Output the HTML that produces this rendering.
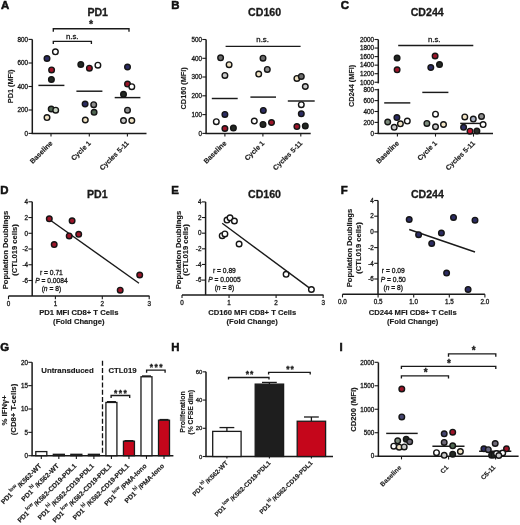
<!DOCTYPE html><html><head><meta charset="utf-8"><style>html,body{margin:0;padding:0;background:#fff;}svg{display:block;will-change:transform;}text{font-family:"Liberation Sans",sans-serif;font-variant-ligatures:none;font-feature-settings:"liga" 0,"clig" 0;}</style></head><body>
<svg width="520" height="525" viewBox="0 0 520 525">
<rect width="520" height="525" fill="#fff"/>
<text x="1" y="9.3" font-size="11.4" font-weight="bold" fill="#111" stroke="#111" stroke-width="0.55">A</text>
<text x="171.3" y="9.3" font-size="11.4" font-weight="bold" fill="#111" stroke="#111" stroke-width="0.55">B</text>
<text x="340.8" y="9.3" font-size="11.4" font-weight="bold" fill="#111" stroke="#111" stroke-width="0.55">C</text>
<text x="0.3" y="193.8" font-size="11.4" font-weight="bold" fill="#111" stroke="#111" stroke-width="0.55">D</text>
<text x="171.3" y="193.8" font-size="11.4" font-weight="bold" fill="#111" stroke="#111" stroke-width="0.55">E</text>
<text x="340.8" y="193.8" font-size="11.4" font-weight="bold" fill="#111" stroke="#111" stroke-width="0.55">F</text>
<text x="0.3" y="350.6" font-size="11.4" font-weight="bold" fill="#111" stroke="#111" stroke-width="0.55">G</text>
<text x="171.3" y="350.6" font-size="11.4" font-weight="bold" fill="#111" stroke="#111" stroke-width="0.55">H</text>
<text x="339.5" y="350.6" font-size="11.4" font-weight="bold" fill="#111" stroke="#111" stroke-width="0.55">I</text>
<text x="97.70" y="15.80" font-size="10.6" font-weight="bold" text-anchor="middle" fill="#1a1a1a" stroke="#1a1a1a" stroke-width="0.3">PD1</text>
<line x1="32.30" y1="39.40" x2="32.30" y2="133.40" stroke="#1a1a1a" stroke-width="1.5"/>
<line x1="31.55" y1="133.40" x2="146.50" y2="133.40" stroke="#1a1a1a" stroke-width="1.5"/>
<line x1="51.00" y1="133.40" x2="51.00" y2="136.60" stroke="#1a1a1a" stroke-width="1.1"/>
<line x1="89.30" y1="133.40" x2="89.30" y2="136.60" stroke="#1a1a1a" stroke-width="1.1"/>
<line x1="127.40" y1="133.40" x2="127.40" y2="136.60" stroke="#1a1a1a" stroke-width="1.1"/>
<line x1="28.50" y1="39.40" x2="32.30" y2="39.40" stroke="#1a1a1a" stroke-width="1.1"/>
<text x="28.10" y="41.67" font-size="6.3" font-weight="normal" text-anchor="end" fill="#1a1a1a" stroke="#1a1a1a" stroke-width="0.3">800</text>
<line x1="28.50" y1="63.00" x2="32.30" y2="63.00" stroke="#1a1a1a" stroke-width="1.1"/>
<text x="28.10" y="65.27" font-size="6.3" font-weight="normal" text-anchor="end" fill="#1a1a1a" stroke="#1a1a1a" stroke-width="0.3">600</text>
<line x1="28.50" y1="86.50" x2="32.30" y2="86.50" stroke="#1a1a1a" stroke-width="1.1"/>
<text x="28.10" y="88.77" font-size="6.3" font-weight="normal" text-anchor="end" fill="#1a1a1a" stroke="#1a1a1a" stroke-width="0.3">400</text>
<line x1="28.50" y1="110.00" x2="32.30" y2="110.00" stroke="#1a1a1a" stroke-width="1.1"/>
<text x="28.10" y="112.27" font-size="6.3" font-weight="normal" text-anchor="end" fill="#1a1a1a" stroke="#1a1a1a" stroke-width="0.3">200</text>
<line x1="28.50" y1="133.40" x2="32.30" y2="133.40" stroke="#1a1a1a" stroke-width="1.1"/>
<text x="28.10" y="135.67" font-size="6.3" font-weight="normal" text-anchor="end" fill="#1a1a1a" stroke="#1a1a1a" stroke-width="0.3">0</text>
<text x="13.30" y="86.40" font-size="7.3" font-weight="bold" text-anchor="middle" fill="#1a1a1a" stroke="#1a1a1a" stroke-width="0.15" transform="rotate(-90 13.30 86.40)">PD1 (MFI)</text>
<line x1="38.40" y1="85.40" x2="64.40" y2="85.40" stroke="#1a1a1a" stroke-width="1.45"/>
<line x1="76.40" y1="91.20" x2="102.40" y2="91.20" stroke="#1a1a1a" stroke-width="1.45"/>
<line x1="114.70" y1="97.60" x2="140.40" y2="97.60" stroke="#1a1a1a" stroke-width="1.45"/>
<circle cx="47.00" cy="58.50" r="2.8" fill="#2c2c62" stroke="#151515" stroke-width="1.4"/>
<circle cx="55.40" cy="51.80" r="2.8" fill="#ffffff" stroke="#151515" stroke-width="1.4"/>
<circle cx="51.60" cy="69.90" r="2.8" fill="#9c1529" stroke="#151515" stroke-width="1.4"/>
<circle cx="51.40" cy="79.40" r="2.8" fill="#232823" stroke="#151515" stroke-width="1.4"/>
<circle cx="51.20" cy="109.00" r="2.8" fill="#4f6652" stroke="#151515" stroke-width="1.4"/>
<circle cx="55.70" cy="110.20" r="2.8" fill="#c5d1c0" stroke="#151515" stroke-width="1.4"/>
<circle cx="47.00" cy="117.60" r="2.8" fill="#f1e4c6" stroke="#151515" stroke-width="1.4"/>
<circle cx="80.80" cy="64.50" r="2.8" fill="#232823" stroke="#151515" stroke-width="1.4"/>
<circle cx="89.40" cy="68.20" r="2.8" fill="#9c1529" stroke="#151515" stroke-width="1.4"/>
<circle cx="97.90" cy="65.20" r="2.8" fill="#ffffff" stroke="#151515" stroke-width="1.4"/>
<circle cx="85.10" cy="104.00" r="2.8" fill="#2c2c62" stroke="#151515" stroke-width="1.4"/>
<circle cx="93.70" cy="104.70" r="2.8" fill="#8d8d8d" stroke="#151515" stroke-width="1.4"/>
<circle cx="94.10" cy="112.30" r="2.8" fill="#4f6652" stroke="#151515" stroke-width="1.4"/>
<circle cx="85.30" cy="120.00" r="2.8" fill="#f1e4c6" stroke="#151515" stroke-width="1.4"/>
<circle cx="127.50" cy="67.00" r="2.8" fill="#2c2c62" stroke="#151515" stroke-width="1.4"/>
<circle cx="127.50" cy="84.10" r="2.8" fill="#9c1529" stroke="#151515" stroke-width="1.4"/>
<circle cx="131.80" cy="86.70" r="2.8" fill="#ffffff" stroke="#151515" stroke-width="1.4"/>
<circle cx="123.50" cy="94.30" r="2.8" fill="#232823" stroke="#151515" stroke-width="1.4"/>
<circle cx="127.50" cy="110.20" r="2.8" fill="#8d8d8d" stroke="#151515" stroke-width="1.4"/>
<circle cx="123.50" cy="120.60" r="2.8" fill="#c8c8c8" stroke="#151515" stroke-width="1.4"/>
<circle cx="131.80" cy="120.60" r="2.8" fill="#f1e4c6" stroke="#151515" stroke-width="1.4"/>
<text x="53.00" y="143.70" font-size="7.0" font-weight="bold" text-anchor="end" fill="#1a1a1a" stroke="#1a1a1a" stroke-width="0.15" transform="rotate(-45 53.00 143.70)">Baseline</text>
<text x="91.30" y="143.70" font-size="7.0" font-weight="bold" text-anchor="end" fill="#1a1a1a" stroke="#1a1a1a" stroke-width="0.15" transform="rotate(-45 91.30 143.70)">Cycle 1</text>
<text x="129.40" y="143.70" font-size="7.0" font-weight="bold" text-anchor="end" fill="#1a1a1a" stroke="#1a1a1a" stroke-width="0.15" transform="rotate(-45 129.40 143.70)">Cycles 5-11</text>
<path d="M53.30 31.70L53.30 28.70L129.00 28.70L129.00 31.70" stroke="#1a1a1a" stroke-width="1.35" fill="none"/>
<text x="91.00" y="28.36" font-size="10.5" font-weight="bold" text-anchor="middle" fill="#1a1a1a" stroke="#1a1a1a" stroke-width="0.3">*</text>
<path d="M53.30 44.10L53.30 41.30L91.40 41.30L91.40 44.10" stroke="#1a1a1a" stroke-width="1.35" fill="none"/>
<text x="72.20" y="39.00" font-size="7.8" font-weight="normal" text-anchor="middle" fill="#1a1a1a" stroke="#1a1a1a" stroke-width="0.3">n.s.</text>
<text x="264.60" y="15.80" font-size="10.6" font-weight="bold" text-anchor="middle" fill="#1a1a1a" stroke="#1a1a1a" stroke-width="0.3">CD160</text>
<line x1="206.10" y1="39.50" x2="206.10" y2="133.40" stroke="#1a1a1a" stroke-width="1.5"/>
<line x1="205.35" y1="133.40" x2="310.70" y2="133.40" stroke="#1a1a1a" stroke-width="1.5"/>
<line x1="224.90" y1="133.40" x2="224.90" y2="136.60" stroke="#1a1a1a" stroke-width="1.1"/>
<line x1="262.90" y1="133.40" x2="262.90" y2="136.60" stroke="#1a1a1a" stroke-width="1.1"/>
<line x1="300.80" y1="133.40" x2="300.80" y2="136.60" stroke="#1a1a1a" stroke-width="1.1"/>
<line x1="202.30" y1="39.50" x2="206.10" y2="39.50" stroke="#1a1a1a" stroke-width="1.1"/>
<text x="201.90" y="41.77" font-size="6.3" font-weight="normal" text-anchor="end" fill="#1a1a1a" stroke="#1a1a1a" stroke-width="0.3">500</text>
<line x1="202.30" y1="58.30" x2="206.10" y2="58.30" stroke="#1a1a1a" stroke-width="1.1"/>
<text x="201.90" y="60.57" font-size="6.3" font-weight="normal" text-anchor="end" fill="#1a1a1a" stroke="#1a1a1a" stroke-width="0.3">400</text>
<line x1="202.30" y1="77.00" x2="206.10" y2="77.00" stroke="#1a1a1a" stroke-width="1.1"/>
<text x="201.90" y="79.27" font-size="6.3" font-weight="normal" text-anchor="end" fill="#1a1a1a" stroke="#1a1a1a" stroke-width="0.3">300</text>
<line x1="202.30" y1="95.80" x2="206.10" y2="95.80" stroke="#1a1a1a" stroke-width="1.1"/>
<text x="201.90" y="98.07" font-size="6.3" font-weight="normal" text-anchor="end" fill="#1a1a1a" stroke="#1a1a1a" stroke-width="0.3">200</text>
<line x1="202.30" y1="114.60" x2="206.10" y2="114.60" stroke="#1a1a1a" stroke-width="1.1"/>
<text x="201.90" y="116.87" font-size="6.3" font-weight="normal" text-anchor="end" fill="#1a1a1a" stroke="#1a1a1a" stroke-width="0.3">100</text>
<line x1="202.30" y1="133.40" x2="206.10" y2="133.40" stroke="#1a1a1a" stroke-width="1.1"/>
<text x="201.90" y="135.67" font-size="6.3" font-weight="normal" text-anchor="end" fill="#1a1a1a" stroke="#1a1a1a" stroke-width="0.3">0</text>
<text x="186.30" y="88.30" font-size="7.3" font-weight="bold" text-anchor="middle" fill="#1a1a1a" stroke="#1a1a1a" stroke-width="0.15" transform="rotate(-90 186.30 88.30)">CD160 (MFI)</text>
<line x1="211.80" y1="98.50" x2="237.70" y2="98.50" stroke="#1a1a1a" stroke-width="1.45"/>
<line x1="250.40" y1="97.10" x2="276.00" y2="97.10" stroke="#1a1a1a" stroke-width="1.45"/>
<line x1="287.80" y1="101.00" x2="314.70" y2="101.00" stroke="#1a1a1a" stroke-width="1.45"/>
<circle cx="220.60" cy="57.80" r="2.8" fill="#6b6b6b" stroke="#151515" stroke-width="1.4"/>
<circle cx="229.10" cy="64.70" r="2.8" fill="#f1e4c6" stroke="#151515" stroke-width="1.4"/>
<circle cx="224.90" cy="75.40" r="2.8" fill="#c8c8c8" stroke="#151515" stroke-width="1.4"/>
<circle cx="224.90" cy="114.40" r="2.8" fill="#2c2c62" stroke="#151515" stroke-width="1.4"/>
<circle cx="216.30" cy="121.70" r="2.8" fill="#ffffff" stroke="#151515" stroke-width="1.4"/>
<circle cx="224.90" cy="128.50" r="2.8" fill="#9c1529" stroke="#151515" stroke-width="1.4"/>
<circle cx="233.40" cy="128.00" r="2.8" fill="#232823" stroke="#151515" stroke-width="1.4"/>
<circle cx="263.00" cy="58.20" r="2.8" fill="#6b6b6b" stroke="#151515" stroke-width="1.4"/>
<circle cx="267.30" cy="69.40" r="2.8" fill="#8d8d8d" stroke="#151515" stroke-width="1.4"/>
<circle cx="258.70" cy="74.10" r="2.8" fill="#f1e4c6" stroke="#151515" stroke-width="1.4"/>
<circle cx="263.30" cy="110.40" r="2.8" fill="#2c2c62" stroke="#151515" stroke-width="1.4"/>
<circle cx="254.30" cy="121.00" r="2.8" fill="#ffffff" stroke="#151515" stroke-width="1.4"/>
<circle cx="263.00" cy="124.40" r="2.8" fill="#232823" stroke="#151515" stroke-width="1.4"/>
<circle cx="271.50" cy="122.50" r="2.8" fill="#9c1529" stroke="#151515" stroke-width="1.4"/>
<circle cx="296.90" cy="78.40" r="2.8" fill="#f1e4c6" stroke="#151515" stroke-width="1.4"/>
<circle cx="301.30" cy="76.40" r="2.8" fill="#6b6b6b" stroke="#151515" stroke-width="1.4"/>
<circle cx="305.30" cy="86.50" r="2.8" fill="#c8c8c8" stroke="#151515" stroke-width="1.4"/>
<circle cx="301.30" cy="104.70" r="2.8" fill="#ffffff" stroke="#151515" stroke-width="1.4"/>
<circle cx="301.30" cy="113.80" r="2.8" fill="#2c2c62" stroke="#151515" stroke-width="1.4"/>
<circle cx="296.90" cy="126.60" r="2.8" fill="#9c1529" stroke="#151515" stroke-width="1.4"/>
<circle cx="305.30" cy="125.90" r="2.8" fill="#232823" stroke="#151515" stroke-width="1.4"/>
<text x="226.90" y="143.70" font-size="7.0" font-weight="bold" text-anchor="end" fill="#1a1a1a" stroke="#1a1a1a" stroke-width="0.15" transform="rotate(-45 226.90 143.70)">Baseline</text>
<text x="264.90" y="143.70" font-size="7.0" font-weight="bold" text-anchor="end" fill="#1a1a1a" stroke="#1a1a1a" stroke-width="0.15" transform="rotate(-45 264.90 143.70)">Cycle 1</text>
<text x="302.80" y="143.70" font-size="7.0" font-weight="bold" text-anchor="end" fill="#1a1a1a" stroke="#1a1a1a" stroke-width="0.15" transform="rotate(-45 302.80 143.70)">Cycles 5-11</text>
<path d="M225.60 46.40L300.60 46.40" stroke="#1a1a1a" stroke-width="1.35" fill="none"/>
<text x="262.60" y="41.80" font-size="7.8" font-weight="normal" text-anchor="middle" fill="#1a1a1a" stroke="#1a1a1a" stroke-width="0.3">n.s.</text>
<text x="427.20" y="15.80" font-size="10.6" font-weight="bold" text-anchor="middle" fill="#1a1a1a" stroke="#1a1a1a" stroke-width="0.3">CD244</text>
<line x1="378.30" y1="39.50" x2="378.30" y2="83.40" stroke="#1a1a1a" stroke-width="1.5"/>
<line x1="378.30" y1="88.80" x2="378.30" y2="133.40" stroke="#1a1a1a" stroke-width="1.5"/>
<line x1="377.55" y1="133.40" x2="493.00" y2="133.40" stroke="#1a1a1a" stroke-width="1.5"/>
<line x1="397.40" y1="133.40" x2="397.40" y2="136.60" stroke="#1a1a1a" stroke-width="1.1"/>
<line x1="435.50" y1="133.40" x2="435.50" y2="136.60" stroke="#1a1a1a" stroke-width="1.1"/>
<line x1="473.50" y1="133.40" x2="473.50" y2="136.60" stroke="#1a1a1a" stroke-width="1.1"/>
<line x1="374.50" y1="39.50" x2="378.30" y2="39.50" stroke="#1a1a1a" stroke-width="1.1"/>
<text x="374.10" y="41.77" font-size="6.3" font-weight="normal" text-anchor="end" fill="#1a1a1a" stroke="#1a1a1a" stroke-width="0.3">2000</text>
<line x1="374.50" y1="48.05" x2="378.30" y2="48.05" stroke="#1a1a1a" stroke-width="1.1"/>
<text x="374.10" y="50.32" font-size="6.3" font-weight="normal" text-anchor="end" fill="#1a1a1a" stroke="#1a1a1a" stroke-width="0.3">1800</text>
<line x1="374.50" y1="56.60" x2="378.30" y2="56.60" stroke="#1a1a1a" stroke-width="1.1"/>
<text x="374.10" y="58.87" font-size="6.3" font-weight="normal" text-anchor="end" fill="#1a1a1a" stroke="#1a1a1a" stroke-width="0.3">1600</text>
<line x1="374.50" y1="65.15" x2="378.30" y2="65.15" stroke="#1a1a1a" stroke-width="1.1"/>
<text x="374.10" y="67.42" font-size="6.3" font-weight="normal" text-anchor="end" fill="#1a1a1a" stroke="#1a1a1a" stroke-width="0.3">1400</text>
<line x1="374.50" y1="73.70" x2="378.30" y2="73.70" stroke="#1a1a1a" stroke-width="1.1"/>
<text x="374.10" y="75.97" font-size="6.3" font-weight="normal" text-anchor="end" fill="#1a1a1a" stroke="#1a1a1a" stroke-width="0.3">1200</text>
<line x1="374.50" y1="82.25" x2="378.30" y2="82.25" stroke="#1a1a1a" stroke-width="1.1"/>
<text x="374.10" y="84.52" font-size="6.3" font-weight="normal" text-anchor="end" fill="#1a1a1a" stroke="#1a1a1a" stroke-width="0.3">1000</text>
<line x1="374.50" y1="89.70" x2="378.30" y2="89.70" stroke="#1a1a1a" stroke-width="1.1"/>
<text x="374.10" y="91.97" font-size="6.3" font-weight="normal" text-anchor="end" fill="#1a1a1a" stroke="#1a1a1a" stroke-width="0.3">800</text>
<line x1="374.50" y1="100.60" x2="378.30" y2="100.60" stroke="#1a1a1a" stroke-width="1.1"/>
<text x="374.10" y="102.87" font-size="6.3" font-weight="normal" text-anchor="end" fill="#1a1a1a" stroke="#1a1a1a" stroke-width="0.3">600</text>
<line x1="374.50" y1="111.50" x2="378.30" y2="111.50" stroke="#1a1a1a" stroke-width="1.1"/>
<text x="374.10" y="113.77" font-size="6.3" font-weight="normal" text-anchor="end" fill="#1a1a1a" stroke="#1a1a1a" stroke-width="0.3">400</text>
<line x1="374.50" y1="122.40" x2="378.30" y2="122.40" stroke="#1a1a1a" stroke-width="1.1"/>
<text x="374.10" y="124.67" font-size="6.3" font-weight="normal" text-anchor="end" fill="#1a1a1a" stroke="#1a1a1a" stroke-width="0.3">200</text>
<line x1="374.50" y1="133.40" x2="378.30" y2="133.40" stroke="#1a1a1a" stroke-width="1.1"/>
<text x="374.10" y="135.67" font-size="6.3" font-weight="normal" text-anchor="end" fill="#1a1a1a" stroke="#1a1a1a" stroke-width="0.3">0</text>
<text x="354.50" y="85.90" font-size="7.3" font-weight="bold" text-anchor="middle" fill="#1a1a1a" stroke="#1a1a1a" stroke-width="0.15" transform="rotate(-90 354.50 85.90)">CD244 (MFI)</text>
<line x1="384.20" y1="102.90" x2="410.30" y2="102.90" stroke="#1a1a1a" stroke-width="1.45"/>
<line x1="422.30" y1="92.40" x2="448.40" y2="92.40" stroke="#1a1a1a" stroke-width="1.45"/>
<circle cx="397.10" cy="58.00" r="2.8" fill="#232823" stroke="#151515" stroke-width="1.4"/>
<circle cx="397.10" cy="69.80" r="2.8" fill="#9c1529" stroke="#151515" stroke-width="1.4"/>
<circle cx="387.70" cy="122.00" r="2.8" fill="#7d8c7d" stroke="#151515" stroke-width="1.4"/>
<circle cx="396.90" cy="117.60" r="2.8" fill="#2c2c62" stroke="#151515" stroke-width="1.4"/>
<circle cx="394.20" cy="127.30" r="2.8" fill="#c8c8c8" stroke="#151515" stroke-width="1.4"/>
<circle cx="400.40" cy="123.80" r="2.8" fill="#f1e4c6" stroke="#151515" stroke-width="1.4"/>
<circle cx="407.30" cy="121.10" r="2.8" fill="#ffffff" stroke="#151515" stroke-width="1.4"/>
<circle cx="435.10" cy="56.00" r="2.8" fill="#9c1529" stroke="#151515" stroke-width="1.4"/>
<circle cx="430.80" cy="67.50" r="2.8" fill="#2c2c62" stroke="#151515" stroke-width="1.4"/>
<circle cx="439.50" cy="64.60" r="2.8" fill="#232823" stroke="#151515" stroke-width="1.4"/>
<circle cx="435.50" cy="114.20" r="2.8" fill="#ffffff" stroke="#151515" stroke-width="1.4"/>
<circle cx="426.90" cy="123.40" r="2.8" fill="#7d8c7d" stroke="#151515" stroke-width="1.4"/>
<circle cx="435.50" cy="126.80" r="2.8" fill="#c8c8c8" stroke="#151515" stroke-width="1.4"/>
<circle cx="443.50" cy="124.50" r="2.8" fill="#f1e4c6" stroke="#151515" stroke-width="1.4"/>
<circle cx="464.80" cy="116.90" r="2.8" fill="#f1e4c6" stroke="#151515" stroke-width="1.4"/>
<circle cx="473.30" cy="119.10" r="2.8" fill="#a9b1c4" stroke="#151515" stroke-width="1.4"/>
<circle cx="481.50" cy="116.40" r="2.8" fill="#8d8d8d" stroke="#151515" stroke-width="1.4"/>
<circle cx="463.60" cy="127.30" r="2.8" fill="#2c2c62" stroke="#151515" stroke-width="1.4"/>
<circle cx="470.00" cy="131.20" r="2.8" fill="#c0102c" stroke="#151515" stroke-width="1.4"/>
<circle cx="476.90" cy="131.00" r="2.8" fill="#2b2f2a" stroke="#151515" stroke-width="1.4"/>
<text x="399.40" y="143.70" font-size="7.0" font-weight="bold" text-anchor="end" fill="#1a1a1a" stroke="#1a1a1a" stroke-width="0.15" transform="rotate(-45 399.40 143.70)">Baseline</text>
<text x="437.50" y="143.70" font-size="7.0" font-weight="bold" text-anchor="end" fill="#1a1a1a" stroke="#1a1a1a" stroke-width="0.15" transform="rotate(-45 437.50 143.70)">Cycle 1</text>
<text x="475.50" y="143.70" font-size="7.0" font-weight="bold" text-anchor="end" fill="#1a1a1a" stroke="#1a1a1a" stroke-width="0.15" transform="rotate(-45 475.50 143.70)">Cycles 5-11</text>
<line x1="460.20" y1="123.40" x2="485.30" y2="123.40" stroke="#1a1a1a" stroke-width="1.45"/>
<circle cx="483.10" cy="124.60" r="2.8" fill="#ffffff" stroke="#151515" stroke-width="1.4"/>
<path d="M398.20 45.50L473.30 45.50" stroke="#1a1a1a" stroke-width="1.35" fill="none"/>
<text x="434.20" y="42.00" font-size="7.8" font-weight="normal" text-anchor="middle" fill="#1a1a1a" stroke="#1a1a1a" stroke-width="0.3">n.s.</text>
<text x="97.30" y="198.00" font-size="10.6" font-weight="bold" text-anchor="middle" fill="#1a1a1a" stroke="#1a1a1a" stroke-width="0.3">PD1</text>
<line x1="32.20" y1="201.80" x2="32.20" y2="296.00" stroke="#1a1a1a" stroke-width="1.5"/>
<line x1="8.50" y1="296.00" x2="149.50" y2="296.00" stroke="#1a1a1a" stroke-width="1.5"/>
<line x1="8.50" y1="296.00" x2="8.50" y2="299.20" stroke="#1a1a1a" stroke-width="1.1"/>
<text x="8.50" y="305.60" font-size="6.3" font-weight="normal" text-anchor="middle" fill="#1a1a1a" stroke="#1a1a1a" stroke-width="0.3">0</text>
<line x1="55.40" y1="296.00" x2="55.40" y2="299.20" stroke="#1a1a1a" stroke-width="1.1"/>
<text x="55.40" y="305.60" font-size="6.3" font-weight="normal" text-anchor="middle" fill="#1a1a1a" stroke="#1a1a1a" stroke-width="0.3">1</text>
<line x1="102.30" y1="296.00" x2="102.30" y2="299.20" stroke="#1a1a1a" stroke-width="1.1"/>
<text x="102.30" y="305.60" font-size="6.3" font-weight="normal" text-anchor="middle" fill="#1a1a1a" stroke="#1a1a1a" stroke-width="0.3">2</text>
<line x1="149.20" y1="296.00" x2="149.20" y2="299.20" stroke="#1a1a1a" stroke-width="1.1"/>
<text x="149.20" y="305.60" font-size="6.3" font-weight="normal" text-anchor="middle" fill="#1a1a1a" stroke="#1a1a1a" stroke-width="0.3">3</text>
<line x1="28.40" y1="201.80" x2="32.20" y2="201.80" stroke="#1a1a1a" stroke-width="1.1"/>
<text x="28.00" y="204.07" font-size="6.3" font-weight="normal" text-anchor="end" fill="#1a1a1a" stroke="#1a1a1a" stroke-width="0.3">4</text>
<line x1="28.40" y1="217.54" x2="32.20" y2="217.54" stroke="#1a1a1a" stroke-width="1.1"/>
<text x="28.00" y="219.81" font-size="6.3" font-weight="normal" text-anchor="end" fill="#1a1a1a" stroke="#1a1a1a" stroke-width="0.3">2</text>
<line x1="28.40" y1="233.28" x2="32.20" y2="233.28" stroke="#1a1a1a" stroke-width="1.1"/>
<text x="28.00" y="235.55" font-size="6.3" font-weight="normal" text-anchor="end" fill="#1a1a1a" stroke="#1a1a1a" stroke-width="0.3">0</text>
<line x1="28.40" y1="249.02" x2="32.20" y2="249.02" stroke="#1a1a1a" stroke-width="1.1"/>
<text x="28.00" y="251.29" font-size="6.3" font-weight="normal" text-anchor="end" fill="#1a1a1a" stroke="#1a1a1a" stroke-width="0.3">-2</text>
<line x1="28.40" y1="264.76" x2="32.20" y2="264.76" stroke="#1a1a1a" stroke-width="1.1"/>
<text x="28.00" y="267.03" font-size="6.3" font-weight="normal" text-anchor="end" fill="#1a1a1a" stroke="#1a1a1a" stroke-width="0.3">-4</text>
<line x1="28.40" y1="280.50" x2="32.20" y2="280.50" stroke="#1a1a1a" stroke-width="1.1"/>
<text x="28.00" y="282.77" font-size="6.3" font-weight="normal" text-anchor="end" fill="#1a1a1a" stroke="#1a1a1a" stroke-width="0.3">-6</text>
<line x1="49.00" y1="219.30" x2="139.00" y2="283.20" stroke="#1a1a1a" stroke-width="1.4"/>
<circle cx="49.30" cy="218.80" r="2.8" fill="#9c1529" stroke="#151515" stroke-width="1.4"/>
<circle cx="72.10" cy="220.80" r="2.8" fill="#9c1529" stroke="#151515" stroke-width="1.4"/>
<circle cx="69.20" cy="235.90" r="2.8" fill="#9c1529" stroke="#151515" stroke-width="1.4"/>
<circle cx="78.70" cy="234.30" r="2.8" fill="#9c1529" stroke="#151515" stroke-width="1.4"/>
<circle cx="54.20" cy="244.60" r="2.8" fill="#9c1529" stroke="#151515" stroke-width="1.4"/>
<circle cx="139.70" cy="275.00" r="2.8" fill="#9c1529" stroke="#151515" stroke-width="1.4"/>
<circle cx="120.20" cy="290.20" r="2.8" fill="#9c1529" stroke="#151515" stroke-width="1.4"/>
<text x="51.40" y="274.60" font-size="6.7" font-weight="normal" text-anchor="middle" fill="#1a1a1a" stroke="#1a1a1a" stroke-width="0.3">r = 0.71</text>
<text x="51.40" y="283.00" font-size="6.7" font-weight="normal" text-anchor="middle" fill="#1a1a1a" stroke="#1a1a1a" stroke-width="0.3"><tspan font-style="italic">P</tspan> = 0.0084</text>
<text x="51.40" y="291.40" font-size="6.7" font-weight="normal" text-anchor="middle" fill="#1a1a1a" stroke="#1a1a1a" stroke-width="0.3">(<tspan font-style="italic">n</tspan> = 8)</text>
<text x="78.80" y="314.90" font-size="7.65" font-weight="bold" text-anchor="middle" fill="#1a1a1a" stroke="#1a1a1a" stroke-width="0.15">PD1 MFI CD8+ T Cells</text>
<text x="78.80" y="324.40" font-size="7.65" font-weight="bold" text-anchor="middle" fill="#1a1a1a" stroke="#1a1a1a" stroke-width="0.15">(Fold Change)</text>
<text x="7.60" y="250.00" font-size="7.6" font-weight="bold" text-anchor="middle" fill="#1a1a1a" stroke="#1a1a1a" stroke-width="0.15" transform="rotate(-90 7.60 250.00)">Population Doublings</text>
<text x="16.60" y="250.00" font-size="7.6" font-weight="bold" text-anchor="middle" fill="#1a1a1a" stroke="#1a1a1a" stroke-width="0.15" transform="rotate(-90 16.60 250.00)">(CTL019 cells)</text>
<text x="264.50" y="198.00" font-size="10.6" font-weight="bold" text-anchor="middle" fill="#1a1a1a" stroke="#1a1a1a" stroke-width="0.3">CD160</text>
<line x1="205.60" y1="201.90" x2="205.60" y2="294.90" stroke="#1a1a1a" stroke-width="1.5"/>
<line x1="182.00" y1="294.90" x2="323.50" y2="294.90" stroke="#1a1a1a" stroke-width="1.5"/>
<line x1="182.00" y1="294.90" x2="182.00" y2="298.10" stroke="#1a1a1a" stroke-width="1.1"/>
<text x="182.00" y="304.50" font-size="6.3" font-weight="normal" text-anchor="middle" fill="#1a1a1a" stroke="#1a1a1a" stroke-width="0.3">0</text>
<line x1="229.05" y1="294.90" x2="229.05" y2="298.10" stroke="#1a1a1a" stroke-width="1.1"/>
<text x="229.05" y="304.50" font-size="6.3" font-weight="normal" text-anchor="middle" fill="#1a1a1a" stroke="#1a1a1a" stroke-width="0.3">1</text>
<line x1="276.10" y1="294.90" x2="276.10" y2="298.10" stroke="#1a1a1a" stroke-width="1.1"/>
<text x="276.10" y="304.50" font-size="6.3" font-weight="normal" text-anchor="middle" fill="#1a1a1a" stroke="#1a1a1a" stroke-width="0.3">2</text>
<line x1="323.15" y1="294.90" x2="323.15" y2="298.10" stroke="#1a1a1a" stroke-width="1.1"/>
<text x="323.15" y="304.50" font-size="6.3" font-weight="normal" text-anchor="middle" fill="#1a1a1a" stroke="#1a1a1a" stroke-width="0.3">3</text>
<line x1="201.80" y1="201.90" x2="205.60" y2="201.90" stroke="#1a1a1a" stroke-width="1.1"/>
<text x="201.40" y="204.17" font-size="6.3" font-weight="normal" text-anchor="end" fill="#1a1a1a" stroke="#1a1a1a" stroke-width="0.3">4</text>
<line x1="201.80" y1="217.54" x2="205.60" y2="217.54" stroke="#1a1a1a" stroke-width="1.1"/>
<text x="201.40" y="219.81" font-size="6.3" font-weight="normal" text-anchor="end" fill="#1a1a1a" stroke="#1a1a1a" stroke-width="0.3">2</text>
<line x1="201.80" y1="233.18" x2="205.60" y2="233.18" stroke="#1a1a1a" stroke-width="1.1"/>
<text x="201.40" y="235.45" font-size="6.3" font-weight="normal" text-anchor="end" fill="#1a1a1a" stroke="#1a1a1a" stroke-width="0.3">0</text>
<line x1="201.80" y1="248.82" x2="205.60" y2="248.82" stroke="#1a1a1a" stroke-width="1.1"/>
<text x="201.40" y="251.09" font-size="6.3" font-weight="normal" text-anchor="end" fill="#1a1a1a" stroke="#1a1a1a" stroke-width="0.3">-2</text>
<line x1="201.80" y1="264.46" x2="205.60" y2="264.46" stroke="#1a1a1a" stroke-width="1.1"/>
<text x="201.40" y="266.73" font-size="6.3" font-weight="normal" text-anchor="end" fill="#1a1a1a" stroke="#1a1a1a" stroke-width="0.3">-4</text>
<line x1="201.80" y1="280.10" x2="205.60" y2="280.10" stroke="#1a1a1a" stroke-width="1.1"/>
<text x="201.40" y="282.37" font-size="6.3" font-weight="normal" text-anchor="end" fill="#1a1a1a" stroke="#1a1a1a" stroke-width="0.3">-6</text>
<line x1="222.20" y1="223.20" x2="312.00" y2="289.90" stroke="#1a1a1a" stroke-width="1.4"/>
<circle cx="227.00" cy="220.10" r="2.8" fill="#ffffff" stroke="#151515" stroke-width="1.4"/>
<circle cx="230.00" cy="217.80" r="2.8" fill="#ffffff" stroke="#151515" stroke-width="1.4"/>
<circle cx="234.40" cy="221.00" r="2.8" fill="#ffffff" stroke="#151515" stroke-width="1.4"/>
<circle cx="222.20" cy="235.70" r="2.8" fill="#ffffff" stroke="#151515" stroke-width="1.4"/>
<circle cx="224.90" cy="233.90" r="2.8" fill="#ffffff" stroke="#151515" stroke-width="1.4"/>
<circle cx="239.10" cy="244.00" r="2.8" fill="#ffffff" stroke="#151515" stroke-width="1.4"/>
<circle cx="286.10" cy="274.30" r="2.8" fill="#ffffff" stroke="#151515" stroke-width="1.4"/>
<circle cx="311.40" cy="289.50" r="2.8" fill="#ffffff" stroke="#151515" stroke-width="1.4"/>
<text x="224.40" y="273.10" font-size="6.7" font-weight="normal" text-anchor="middle" fill="#1a1a1a" stroke="#1a1a1a" stroke-width="0.3">r = 0.89</text>
<text x="224.40" y="281.50" font-size="6.7" font-weight="normal" text-anchor="middle" fill="#1a1a1a" stroke="#1a1a1a" stroke-width="0.3"><tspan font-style="italic">P</tspan> = 0.0005</text>
<text x="224.40" y="289.90" font-size="6.7" font-weight="normal" text-anchor="middle" fill="#1a1a1a" stroke="#1a1a1a" stroke-width="0.3">(<tspan font-style="italic">n</tspan> = 8)</text>
<text x="252.20" y="314.90" font-size="7.65" font-weight="bold" text-anchor="middle" fill="#1a1a1a" stroke="#1a1a1a" stroke-width="0.15">CD160 MFI CD8+ T Cells</text>
<text x="252.20" y="324.40" font-size="7.65" font-weight="bold" text-anchor="middle" fill="#1a1a1a" stroke="#1a1a1a" stroke-width="0.15">(Fold Change)</text>
<text x="181.40" y="250.00" font-size="7.6" font-weight="bold" text-anchor="middle" fill="#1a1a1a" stroke="#1a1a1a" stroke-width="0.15" transform="rotate(-90 181.40 250.00)">Population Doublings</text>
<text x="188.20" y="250.00" font-size="7.6" font-weight="bold" text-anchor="middle" fill="#1a1a1a" stroke="#1a1a1a" stroke-width="0.15" transform="rotate(-90 188.20 250.00)">(CTL019 cells)</text>
<text x="427.40" y="198.00" font-size="10.6" font-weight="bold" text-anchor="middle" fill="#1a1a1a" stroke="#1a1a1a" stroke-width="0.3">CD244</text>
<line x1="378.00" y1="200.50" x2="378.00" y2="294.20" stroke="#1a1a1a" stroke-width="1.5"/>
<line x1="342.50" y1="294.20" x2="484.90" y2="294.20" stroke="#1a1a1a" stroke-width="1.5"/>
<line x1="342.50" y1="294.20" x2="342.50" y2="297.40" stroke="#1a1a1a" stroke-width="1.1"/>
<text x="342.50" y="303.80" font-size="6.3" font-weight="normal" text-anchor="middle" fill="#1a1a1a" stroke="#1a1a1a" stroke-width="0.3">0.0</text>
<line x1="378.10" y1="294.20" x2="378.10" y2="297.40" stroke="#1a1a1a" stroke-width="1.1"/>
<text x="378.10" y="303.80" font-size="6.3" font-weight="normal" text-anchor="middle" fill="#1a1a1a" stroke="#1a1a1a" stroke-width="0.3">0.5</text>
<line x1="413.70" y1="294.20" x2="413.70" y2="297.40" stroke="#1a1a1a" stroke-width="1.1"/>
<text x="413.70" y="303.80" font-size="6.3" font-weight="normal" text-anchor="middle" fill="#1a1a1a" stroke="#1a1a1a" stroke-width="0.3">1.0</text>
<line x1="449.30" y1="294.20" x2="449.30" y2="297.40" stroke="#1a1a1a" stroke-width="1.1"/>
<text x="449.30" y="303.80" font-size="6.3" font-weight="normal" text-anchor="middle" fill="#1a1a1a" stroke="#1a1a1a" stroke-width="0.3">1.5</text>
<line x1="484.90" y1="294.20" x2="484.90" y2="297.40" stroke="#1a1a1a" stroke-width="1.1"/>
<text x="484.90" y="303.80" font-size="6.3" font-weight="normal" text-anchor="middle" fill="#1a1a1a" stroke="#1a1a1a" stroke-width="0.3">2.0</text>
<line x1="374.20" y1="200.50" x2="378.00" y2="200.50" stroke="#1a1a1a" stroke-width="1.1"/>
<text x="373.80" y="202.77" font-size="6.3" font-weight="normal" text-anchor="end" fill="#1a1a1a" stroke="#1a1a1a" stroke-width="0.3">4</text>
<line x1="374.20" y1="216.20" x2="378.00" y2="216.20" stroke="#1a1a1a" stroke-width="1.1"/>
<text x="373.80" y="218.47" font-size="6.3" font-weight="normal" text-anchor="end" fill="#1a1a1a" stroke="#1a1a1a" stroke-width="0.3">2</text>
<line x1="374.20" y1="231.90" x2="378.00" y2="231.90" stroke="#1a1a1a" stroke-width="1.1"/>
<text x="373.80" y="234.17" font-size="6.3" font-weight="normal" text-anchor="end" fill="#1a1a1a" stroke="#1a1a1a" stroke-width="0.3">0</text>
<line x1="374.20" y1="247.60" x2="378.00" y2="247.60" stroke="#1a1a1a" stroke-width="1.1"/>
<text x="373.80" y="249.87" font-size="6.3" font-weight="normal" text-anchor="end" fill="#1a1a1a" stroke="#1a1a1a" stroke-width="0.3">-2</text>
<line x1="374.20" y1="263.30" x2="378.00" y2="263.30" stroke="#1a1a1a" stroke-width="1.1"/>
<text x="373.80" y="265.57" font-size="6.3" font-weight="normal" text-anchor="end" fill="#1a1a1a" stroke="#1a1a1a" stroke-width="0.3">-4</text>
<line x1="374.20" y1="279.00" x2="378.00" y2="279.00" stroke="#1a1a1a" stroke-width="1.1"/>
<text x="373.80" y="281.27" font-size="6.3" font-weight="normal" text-anchor="end" fill="#1a1a1a" stroke="#1a1a1a" stroke-width="0.3">-6</text>
<line x1="409.20" y1="229.50" x2="475.00" y2="252.00" stroke="#1a1a1a" stroke-width="1.4"/>
<circle cx="409.20" cy="219.50" r="2.8" fill="#2c2c62" stroke="#151515" stroke-width="1.4"/>
<circle cx="418.60" cy="234.70" r="2.8" fill="#2c2c62" stroke="#151515" stroke-width="1.4"/>
<circle cx="431.70" cy="243.40" r="2.8" fill="#2c2c62" stroke="#151515" stroke-width="1.4"/>
<circle cx="441.40" cy="233.00" r="2.8" fill="#2c2c62" stroke="#151515" stroke-width="1.4"/>
<circle cx="453.50" cy="217.40" r="2.8" fill="#2c2c62" stroke="#151515" stroke-width="1.4"/>
<circle cx="475.00" cy="220.20" r="2.8" fill="#2c2c62" stroke="#151515" stroke-width="1.4"/>
<circle cx="446.60" cy="273.10" r="2.8" fill="#2c2c62" stroke="#151515" stroke-width="1.4"/>
<circle cx="468.10" cy="289.40" r="2.8" fill="#2c2c62" stroke="#151515" stroke-width="1.4"/>
<text x="393.30" y="273.10" font-size="6.7" font-weight="normal" text-anchor="middle" fill="#1a1a1a" stroke="#1a1a1a" stroke-width="0.3">r = 0.09</text>
<text x="393.30" y="281.50" font-size="6.7" font-weight="normal" text-anchor="middle" fill="#1a1a1a" stroke="#1a1a1a" stroke-width="0.3"><tspan font-style="italic">P</tspan> = 0.50</text>
<text x="393.30" y="289.90" font-size="6.7" font-weight="normal" text-anchor="middle" fill="#1a1a1a" stroke="#1a1a1a" stroke-width="0.3">(<tspan font-style="italic">n</tspan> = 8)</text>
<text x="412.70" y="314.90" font-size="7.65" font-weight="bold" text-anchor="middle" fill="#1a1a1a" stroke="#1a1a1a" stroke-width="0.15">CD244 MFI CD8+ T Cells</text>
<text x="412.70" y="324.40" font-size="7.65" font-weight="bold" text-anchor="middle" fill="#1a1a1a" stroke="#1a1a1a" stroke-width="0.15">(Fold Change)</text>
<text x="352.40" y="248.00" font-size="7.6" font-weight="bold" text-anchor="middle" fill="#1a1a1a" stroke="#1a1a1a" stroke-width="0.15" transform="rotate(-90 352.40 248.00)">Population Doublings</text>
<text x="360.60" y="248.00" font-size="7.6" font-weight="bold" text-anchor="middle" fill="#1a1a1a" stroke="#1a1a1a" stroke-width="0.15" transform="rotate(-90 360.60 248.00)">(CTL019 cells)</text>
<line x1="32.10" y1="362.30" x2="32.10" y2="455.70" stroke="#1a1a1a" stroke-width="1.5"/>
<line x1="31.35" y1="455.70" x2="173.40" y2="455.70" stroke="#1a1a1a" stroke-width="1.5"/>
<line x1="28.30" y1="455.70" x2="32.10" y2="455.70" stroke="#1a1a1a" stroke-width="1.1"/>
<text x="27.90" y="457.97" font-size="6.3" font-weight="normal" text-anchor="end" fill="#1a1a1a" stroke="#1a1a1a" stroke-width="0.3">0</text>
<line x1="28.30" y1="432.35" x2="32.10" y2="432.35" stroke="#1a1a1a" stroke-width="1.1"/>
<text x="27.90" y="434.62" font-size="6.3" font-weight="normal" text-anchor="end" fill="#1a1a1a" stroke="#1a1a1a" stroke-width="0.3">5</text>
<line x1="28.30" y1="409.00" x2="32.10" y2="409.00" stroke="#1a1a1a" stroke-width="1.1"/>
<text x="27.90" y="411.27" font-size="6.3" font-weight="normal" text-anchor="end" fill="#1a1a1a" stroke="#1a1a1a" stroke-width="0.3">10</text>
<line x1="28.30" y1="385.65" x2="32.10" y2="385.65" stroke="#1a1a1a" stroke-width="1.1"/>
<text x="27.90" y="387.92" font-size="6.3" font-weight="normal" text-anchor="end" fill="#1a1a1a" stroke="#1a1a1a" stroke-width="0.3">15</text>
<line x1="28.30" y1="362.30" x2="32.10" y2="362.30" stroke="#1a1a1a" stroke-width="1.1"/>
<text x="27.90" y="364.57" font-size="6.3" font-weight="normal" text-anchor="end" fill="#1a1a1a" stroke="#1a1a1a" stroke-width="0.3">20</text>
<line x1="41.30" y1="455.70" x2="41.30" y2="458.90" stroke="#1a1a1a" stroke-width="1.1"/>
<rect x="35.80" y="451.59" width="11.00" height="4.11" fill="#fff" stroke="#1a1a1a" stroke-width="1.3"/>
<line x1="58.83" y1="455.70" x2="58.83" y2="458.90" stroke="#1a1a1a" stroke-width="1.1"/>
<rect x="53.33" y="454.30" width="11.00" height="1.40" fill="#333" stroke="#1a1a1a" stroke-width="1.3"/>
<line x1="76.36" y1="455.70" x2="76.36" y2="458.90" stroke="#1a1a1a" stroke-width="1.1"/>
<rect x="70.86" y="454.30" width="11.00" height="1.40" fill="#333" stroke="#1a1a1a" stroke-width="1.3"/>
<line x1="93.89" y1="455.70" x2="93.89" y2="458.90" stroke="#1a1a1a" stroke-width="1.1"/>
<rect x="88.39" y="454.30" width="11.00" height="1.40" fill="#333" stroke="#1a1a1a" stroke-width="1.3"/>
<line x1="111.42" y1="455.70" x2="111.42" y2="458.90" stroke="#1a1a1a" stroke-width="1.1"/>
<rect x="105.92" y="402.46" width="11.00" height="53.24" fill="#fff" stroke="#1a1a1a" stroke-width="1.3"/>
<line x1="128.95" y1="455.70" x2="128.95" y2="458.90" stroke="#1a1a1a" stroke-width="1.1"/>
<rect x="123.45" y="441.22" width="11.00" height="14.48" fill="#c5061b" stroke="#1a1a1a" stroke-width="1.3"/>
<line x1="146.48" y1="455.70" x2="146.48" y2="458.90" stroke="#1a1a1a" stroke-width="1.1"/>
<rect x="140.98" y="376.78" width="11.00" height="78.92" fill="#fff" stroke="#1a1a1a" stroke-width="1.3"/>
<line x1="164.01" y1="455.70" x2="164.01" y2="458.90" stroke="#1a1a1a" stroke-width="1.1"/>
<rect x="158.51" y="420.21" width="11.00" height="35.49" fill="#c5061b" stroke="#1a1a1a" stroke-width="1.3"/>
<line x1="106.92" y1="401.76" x2="115.92" y2="401.76" stroke="#1a1a1a" stroke-width="1.5"/>
<line x1="141.98" y1="376.08" x2="150.98" y2="376.08" stroke="#1a1a1a" stroke-width="1.5"/>
<line x1="159.51" y1="419.65" x2="168.51" y2="419.65" stroke="#1a1a1a" stroke-width="1.5"/>
<line x1="124.45" y1="440.76" x2="133.45" y2="440.76" stroke="#1a1a1a" stroke-width="1.5"/>
<line x1="102.5" y1="360.7" x2="102.5" y2="455.70" stroke="#111" stroke-width="1.3" stroke-dasharray="5 2.25"/>
<text x="41.30" y="373.30" font-size="7.8" font-weight="bold" text-anchor="start" fill="#1a1a1a" stroke="#1a1a1a" stroke-width="0.15">Untransduced</text>
<text x="108.40" y="372.90" font-size="7.8" font-weight="bold" text-anchor="start" fill="#1a1a1a" stroke="#1a1a1a" stroke-width="0.15">CTL019</text>
<path d="M111.10 397.90L111.10 395.50L129.70 395.50L129.70 397.90" stroke="#1a1a1a" stroke-width="1.35" fill="none"/>
<text x="115.75" y="395.63" font-size="8.5" font-weight="bold" text-anchor="middle" fill="#1a1a1a" stroke="#1a1a1a" stroke-width="0.3">*</text>
<text x="120.50" y="395.63" font-size="8.5" font-weight="bold" text-anchor="middle" fill="#1a1a1a" stroke="#1a1a1a" stroke-width="0.3">*</text>
<text x="125.25" y="395.63" font-size="8.5" font-weight="bold" text-anchor="middle" fill="#1a1a1a" stroke="#1a1a1a" stroke-width="0.3">*</text>
<path d="M146.60 372.70L146.60 370.10L165.10 370.10L165.10 372.70" stroke="#1a1a1a" stroke-width="1.35" fill="none"/>
<text x="151.35" y="370.44" font-size="8.5" font-weight="bold" text-anchor="middle" fill="#1a1a1a" stroke="#1a1a1a" stroke-width="0.3">*</text>
<text x="156.10" y="370.44" font-size="8.5" font-weight="bold" text-anchor="middle" fill="#1a1a1a" stroke="#1a1a1a" stroke-width="0.3">*</text>
<text x="160.85" y="370.44" font-size="8.5" font-weight="bold" text-anchor="middle" fill="#1a1a1a" stroke="#1a1a1a" stroke-width="0.3">*</text>
<text x="6.80" y="410.30" font-size="7.75" font-weight="bold" text-anchor="middle" fill="#1a1a1a" stroke="#1a1a1a" stroke-width="0.15" transform="rotate(-90 6.80 410.30)">% IFN&#947;+</text>
<text x="15.70" y="409.50" font-size="7.75" font-weight="bold" text-anchor="middle" fill="#1a1a1a" stroke="#1a1a1a" stroke-width="0.15" transform="rotate(-90 15.70 409.50)">(CD8+ T-cells)</text>
<text x="41.90" y="466.30" font-size="6.75" font-weight="bold" text-anchor="end" fill="#1a1a1a" stroke="#1a1a1a" stroke-width="0.15" transform="rotate(-45 41.90 466.30)">PD1<tspan font-size="5.13" dx="0.6" dy="-3.71">low</tspan><tspan dy="3.71" dx="1.0">/K562-WT</tspan></text>
<text x="59.43" y="466.30" font-size="6.75" font-weight="bold" text-anchor="end" fill="#1a1a1a" stroke="#1a1a1a" stroke-width="0.15" transform="rotate(-45 59.43 466.30)">PD1<tspan font-size="5.13" dx="0.6" dy="-3.71">hi</tspan><tspan dy="3.71" dx="1.0">/K562-WT</tspan></text>
<text x="76.96" y="466.30" font-size="6.75" font-weight="bold" text-anchor="end" fill="#1a1a1a" stroke="#1a1a1a" stroke-width="0.15" transform="rotate(-45 76.96 466.30)">PD1<tspan font-size="5.13" dx="0.6" dy="-3.71">low</tspan><tspan dy="3.71" dx="1.0">/K562-CD19-PDL1</tspan></text>
<text x="94.49" y="466.30" font-size="6.75" font-weight="bold" text-anchor="end" fill="#1a1a1a" stroke="#1a1a1a" stroke-width="0.15" transform="rotate(-45 94.49 466.30)">PD1<tspan font-size="5.13" dx="0.6" dy="-3.71">hi</tspan><tspan dy="3.71" dx="1.0">/K562-CD19-PDL1</tspan></text>
<text x="112.02" y="466.30" font-size="6.75" font-weight="bold" text-anchor="end" fill="#1a1a1a" stroke="#1a1a1a" stroke-width="0.15" transform="rotate(-45 112.02 466.30)">PD1<tspan font-size="5.13" dx="0.6" dy="-3.71">low</tspan><tspan dy="3.71" dx="1.0">/K562-CD19-PDL1</tspan></text>
<text x="129.55" y="466.30" font-size="6.75" font-weight="bold" text-anchor="end" fill="#1a1a1a" stroke="#1a1a1a" stroke-width="0.15" transform="rotate(-45 129.55 466.30)">PD1<tspan font-size="5.13" dx="0.6" dy="-3.71">hi</tspan><tspan dy="3.71" dx="1.0">/K562-CD19-PDL1</tspan></text>
<text x="147.08" y="466.30" font-size="6.75" font-weight="bold" text-anchor="end" fill="#1a1a1a" stroke="#1a1a1a" stroke-width="0.15" transform="rotate(-45 147.08 466.30)">PD1<tspan font-size="5.13" dx="0.6" dy="-3.71">low</tspan><tspan dy="3.71" dx="1.0">/PMA-Iono</tspan></text>
<text x="164.61" y="466.30" font-size="6.75" font-weight="bold" text-anchor="end" fill="#1a1a1a" stroke="#1a1a1a" stroke-width="0.15" transform="rotate(-45 164.61 466.30)">PD1<tspan font-size="5.13" dx="0.6" dy="-3.71">hi</tspan><tspan dy="3.71" dx="1.0">/PMA-Iono</tspan></text>
<line x1="206.00" y1="371.80" x2="206.00" y2="456.50" stroke="#1a1a1a" stroke-width="1.5"/>
<line x1="205.25" y1="456.50" x2="333.00" y2="456.50" stroke="#1a1a1a" stroke-width="1.5"/>
<line x1="202.70" y1="456.50" x2="206.00" y2="456.50" stroke="#1a1a1a" stroke-width="1.1"/>
<text x="202.30" y="458.62" font-size="5.9" font-weight="normal" text-anchor="end" fill="#1a1a1a" stroke="#1a1a1a" stroke-width="0.3">0</text>
<line x1="202.70" y1="428.28" x2="206.00" y2="428.28" stroke="#1a1a1a" stroke-width="1.1"/>
<text x="202.30" y="430.40" font-size="5.9" font-weight="normal" text-anchor="end" fill="#1a1a1a" stroke="#1a1a1a" stroke-width="0.3">20</text>
<line x1="202.70" y1="400.06" x2="206.00" y2="400.06" stroke="#1a1a1a" stroke-width="1.1"/>
<text x="202.30" y="402.18" font-size="5.9" font-weight="normal" text-anchor="end" fill="#1a1a1a" stroke="#1a1a1a" stroke-width="0.3">40</text>
<line x1="202.70" y1="371.84" x2="206.00" y2="371.84" stroke="#1a1a1a" stroke-width="1.1"/>
<text x="202.30" y="373.96" font-size="5.9" font-weight="normal" text-anchor="end" fill="#1a1a1a" stroke="#1a1a1a" stroke-width="0.3">60</text>
<line x1="226.90" y1="456.50" x2="226.90" y2="458.50" stroke="#1a1a1a" stroke-width="1.1"/>
<line x1="226.90" y1="431.38" x2="226.90" y2="427.57" stroke="#1a1a1a" stroke-width="1.3"/>
<line x1="219.50" y1="427.57" x2="234.30" y2="427.57" stroke="#1a1a1a" stroke-width="1.3"/>
<rect x="212.70" y="431.38" width="28.40" height="25.12" fill="#fff" stroke="#1a1a1a" stroke-width="1.3"/>
<line x1="269.40" y1="456.50" x2="269.40" y2="458.50" stroke="#1a1a1a" stroke-width="1.1"/>
<line x1="269.40" y1="384.12" x2="269.40" y2="382.42" stroke="#1a1a1a" stroke-width="1.3"/>
<line x1="262.00" y1="382.42" x2="276.80" y2="382.42" stroke="#1a1a1a" stroke-width="1.3"/>
<rect x="255.20" y="384.12" width="28.40" height="72.38" fill="#1e1e1e" stroke="#1a1a1a" stroke-width="1.3"/>
<line x1="311.40" y1="456.50" x2="311.40" y2="458.50" stroke="#1a1a1a" stroke-width="1.1"/>
<line x1="311.40" y1="421.23" x2="311.40" y2="416.99" stroke="#1a1a1a" stroke-width="1.3"/>
<line x1="304.00" y1="416.99" x2="318.80" y2="416.99" stroke="#1a1a1a" stroke-width="1.3"/>
<rect x="297.20" y="421.23" width="28.40" height="35.27" fill="#c5061b" stroke="#1a1a1a" stroke-width="1.3"/>
<path d="M228.50 379.50L228.50 377.50L269.00 377.50L269.00 379.50" stroke="#1a1a1a" stroke-width="1.35" fill="none"/>
<text x="247.45" y="377.23" font-size="8.5" font-weight="bold" text-anchor="middle" fill="#1a1a1a" stroke="#1a1a1a" stroke-width="0.3">*</text>
<text x="251.55" y="377.23" font-size="8.5" font-weight="bold" text-anchor="middle" fill="#1a1a1a" stroke="#1a1a1a" stroke-width="0.3">*</text>
<path d="M268.60 374.40L268.60 372.40L310.20 372.40L310.20 374.40" stroke="#1a1a1a" stroke-width="1.35" fill="none"/>
<text x="287.85" y="372.44" font-size="8.5" font-weight="bold" text-anchor="middle" fill="#1a1a1a" stroke="#1a1a1a" stroke-width="0.3">*</text>
<text x="292.15" y="372.44" font-size="8.5" font-weight="bold" text-anchor="middle" fill="#1a1a1a" stroke="#1a1a1a" stroke-width="0.3">*</text>
<text x="185.00" y="412.00" font-size="7.05" font-weight="bold" text-anchor="middle" fill="#1a1a1a" stroke="#1a1a1a" stroke-width="0.15" transform="rotate(-90 185.00 412.00)">Proliferation</text>
<text x="192.90" y="412.30" font-size="6.8" font-weight="bold" text-anchor="middle" fill="#1a1a1a" stroke="#1a1a1a" stroke-width="0.15" transform="rotate(-90 192.90 412.30)">(% CFSE dim)</text>
<text x="228.50" y="463.40" font-size="6.4" font-weight="bold" text-anchor="end" fill="#1a1a1a" stroke="#1a1a1a" stroke-width="0.15" transform="rotate(-45 228.50 463.40)">PD1<tspan font-size="4.86" dx="0.5" dy="-3.52">hi</tspan><tspan dy="3.52" dx="0.9">/K562-WT</tspan></text>
<text x="271.00" y="463.40" font-size="6.4" font-weight="bold" text-anchor="end" fill="#1a1a1a" stroke="#1a1a1a" stroke-width="0.15" transform="rotate(-45 271.00 463.40)">PD1<tspan font-size="4.86" dx="0.5" dy="-3.52">low</tspan><tspan dy="3.52" dx="0.9">/K562-CD19-PDL1</tspan></text>
<text x="313.00" y="463.40" font-size="6.4" font-weight="bold" text-anchor="end" fill="#1a1a1a" stroke="#1a1a1a" stroke-width="0.15" transform="rotate(-45 313.00 463.40)">PD1<tspan font-size="4.86" dx="0.5" dy="-3.52">hi</tspan><tspan dy="3.52" dx="0.9">/K562-CD19-PDL1</tspan></text>
<line x1="378.40" y1="362.50" x2="378.40" y2="456.20" stroke="#1a1a1a" stroke-width="1.5"/>
<line x1="377.65" y1="456.20" x2="518.60" y2="456.20" stroke="#1a1a1a" stroke-width="1.5"/>
<line x1="374.60" y1="456.20" x2="378.40" y2="456.20" stroke="#1a1a1a" stroke-width="1.1"/>
<text x="374.20" y="458.47" font-size="6.3" font-weight="normal" text-anchor="end" fill="#1a1a1a" stroke="#1a1a1a" stroke-width="0.3">0</text>
<line x1="374.60" y1="432.72" x2="378.40" y2="432.72" stroke="#1a1a1a" stroke-width="1.1"/>
<text x="374.20" y="434.99" font-size="6.3" font-weight="normal" text-anchor="end" fill="#1a1a1a" stroke="#1a1a1a" stroke-width="0.3">500</text>
<line x1="374.60" y1="409.25" x2="378.40" y2="409.25" stroke="#1a1a1a" stroke-width="1.1"/>
<text x="374.20" y="411.52" font-size="6.3" font-weight="normal" text-anchor="end" fill="#1a1a1a" stroke="#1a1a1a" stroke-width="0.3">1000</text>
<line x1="374.60" y1="385.77" x2="378.40" y2="385.77" stroke="#1a1a1a" stroke-width="1.1"/>
<text x="374.20" y="388.04" font-size="6.3" font-weight="normal" text-anchor="end" fill="#1a1a1a" stroke="#1a1a1a" stroke-width="0.3">1500</text>
<line x1="374.60" y1="362.30" x2="378.40" y2="362.30" stroke="#1a1a1a" stroke-width="1.1"/>
<text x="374.20" y="364.57" font-size="6.3" font-weight="normal" text-anchor="end" fill="#1a1a1a" stroke="#1a1a1a" stroke-width="0.3">2000</text>
<line x1="401.50" y1="456.20" x2="401.50" y2="459.40" stroke="#1a1a1a" stroke-width="1.1"/>
<line x1="448.60" y1="456.20" x2="448.60" y2="459.40" stroke="#1a1a1a" stroke-width="1.1"/>
<line x1="495.60" y1="456.20" x2="495.60" y2="459.40" stroke="#1a1a1a" stroke-width="1.1"/>
<text x="355.60" y="409.60" font-size="7.7" font-weight="bold" text-anchor="middle" fill="#1a1a1a" stroke="#1a1a1a" stroke-width="0.15" transform="rotate(-90 355.60 409.60)">CD200 (MFI)</text>
<path d="M448.50 356.80L448.50 353.80L495.80 353.80L495.80 356.80" stroke="#1a1a1a" stroke-width="1.35" fill="none"/>
<text x="473.80" y="353.70" font-size="10.0" font-weight="bold" text-anchor="middle" fill="#1a1a1a" stroke="#1a1a1a" stroke-width="0.3">*</text>
<path d="M401.40 369.10L401.40 366.30L495.80 366.30L495.80 369.10" stroke="#1a1a1a" stroke-width="1.35" fill="none"/>
<text x="449.00" y="367.10" font-size="10.0" font-weight="bold" text-anchor="middle" fill="#1a1a1a" stroke="#1a1a1a" stroke-width="0.3">*</text>
<path d="M401.40 378.40L401.40 375.80L448.50 375.80L448.50 378.40" stroke="#1a1a1a" stroke-width="1.35" fill="none"/>
<text x="425.80" y="376.30" font-size="10.0" font-weight="bold" text-anchor="middle" fill="#1a1a1a" stroke="#1a1a1a" stroke-width="0.3">*</text>
<line x1="386.20" y1="433.40" x2="417.70" y2="433.40" stroke="#1a1a1a" stroke-width="1.45"/>
<line x1="432.40" y1="446.20" x2="464.50" y2="446.20" stroke="#1a1a1a" stroke-width="1.45"/>
<line x1="479.10" y1="451.20" x2="511.30" y2="451.20" stroke="#1a1a1a" stroke-width="1.45"/>
<circle cx="401.80" cy="389.00" r="2.8" fill="#9c1529" stroke="#151515" stroke-width="1.4"/>
<circle cx="401.80" cy="416.90" r="2.8" fill="#45456f" stroke="#151515" stroke-width="1.4"/>
<circle cx="397.70" cy="440.80" r="2.8" fill="#7d8c7d" stroke="#151515" stroke-width="1.4"/>
<circle cx="406.20" cy="439.20" r="2.8" fill="#232823" stroke="#151515" stroke-width="1.4"/>
<circle cx="409.70" cy="441.80" r="2.8" fill="#6f6a78" stroke="#151515" stroke-width="1.4"/>
<circle cx="393.80" cy="446.20" r="2.8" fill="#ffffff" stroke="#151515" stroke-width="1.4"/>
<circle cx="399.20" cy="447.20" r="2.8" fill="#f1e4c6" stroke="#151515" stroke-width="1.4"/>
<circle cx="404.20" cy="446.90" r="2.8" fill="#c8c8c8" stroke="#151515" stroke-width="1.4"/>
<circle cx="444.20" cy="433.80" r="2.8" fill="#45456f" stroke="#151515" stroke-width="1.4"/>
<circle cx="452.70" cy="432.20" r="2.8" fill="#9c1529" stroke="#151515" stroke-width="1.4"/>
<circle cx="444.20" cy="442.40" r="2.8" fill="#6f6a78" stroke="#151515" stroke-width="1.4"/>
<circle cx="452.70" cy="445.80" r="2.8" fill="#4f6652" stroke="#151515" stroke-width="1.4"/>
<circle cx="436.50" cy="452.70" r="2.8" fill="#ffffff" stroke="#151515" stroke-width="1.4"/>
<circle cx="444.20" cy="455.30" r="2.8" fill="#c8c8c8" stroke="#151515" stroke-width="1.4"/>
<circle cx="452.70" cy="454.20" r="2.8" fill="#232823" stroke="#151515" stroke-width="1.4"/>
<circle cx="460.40" cy="451.50" r="2.8" fill="#f1e4c6" stroke="#151515" stroke-width="1.4"/>
<circle cx="495.20" cy="443.50" r="2.8" fill="#6f6a78" stroke="#151515" stroke-width="1.4"/>
<circle cx="483.90" cy="448.80" r="2.8" fill="#2c2c62" stroke="#151515" stroke-width="1.4"/>
<circle cx="488.30" cy="449.70" r="2.8" fill="#66667e" stroke="#151515" stroke-width="1.4"/>
<circle cx="506.50" cy="448.80" r="2.8" fill="#9c1529" stroke="#151515" stroke-width="1.4"/>
<circle cx="502.70" cy="453.00" r="2.8" fill="#ffffff" stroke="#151515" stroke-width="1.4"/>
<circle cx="491.60" cy="455.20" r="2.8" fill="#232823" stroke="#151515" stroke-width="1.4"/>
<circle cx="494.00" cy="455.00" r="2.8" fill="#232823" stroke="#151515" stroke-width="1.4"/>
<circle cx="496.50" cy="453.50" r="2.8" fill="#ffffff" stroke="#151515" stroke-width="1.4"/>
<circle cx="498.80" cy="455.50" r="2.8" fill="#c8c8c8" stroke="#151515" stroke-width="1.4"/>
<text x="401.70" y="468.00" font-size="6.5" font-weight="bold" text-anchor="end" fill="#1a1a1a" stroke="#1a1a1a" stroke-width="0.15" transform="rotate(-45 401.70 468.00)">Baseline</text>
<text x="448.80" y="468.00" font-size="6.5" font-weight="bold" text-anchor="end" fill="#1a1a1a" stroke="#1a1a1a" stroke-width="0.15" transform="rotate(-45 448.80 468.00)">C1</text>
<text x="495.80" y="468.00" font-size="6.5" font-weight="bold" text-anchor="end" fill="#1a1a1a" stroke="#1a1a1a" stroke-width="0.15" transform="rotate(-45 495.80 468.00)">C5-11</text>
</svg></body></html>
